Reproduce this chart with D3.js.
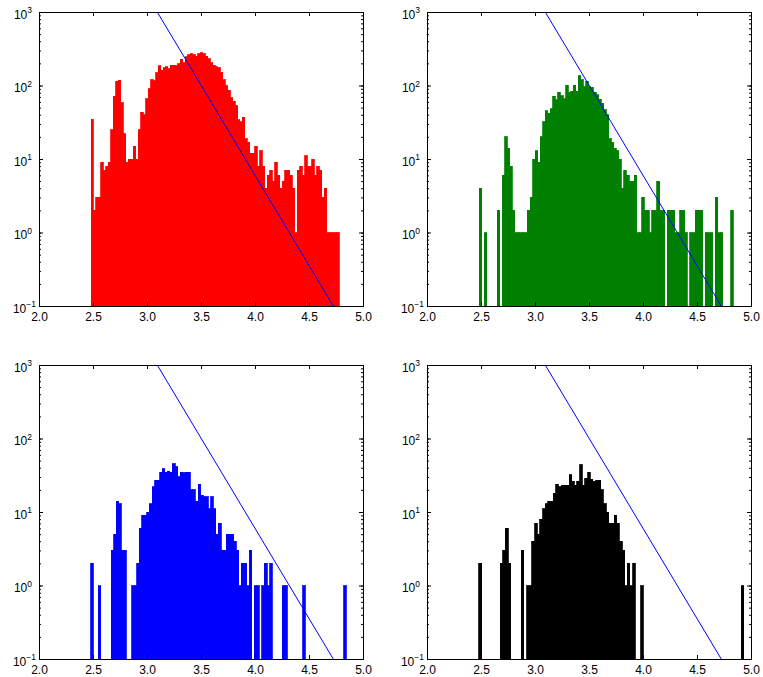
<!DOCTYPE html>
<html>
<head>
<meta charset="utf-8">
<script src="https://cdn.jsdelivr.net/npm/d3@7"></script>
<style>
  body { margin: 0; background: #fff; }
  svg { display: block; font-family: "DejaVu Sans", sans-serif; }
  .tick text { font-size: 12px; fill: #000; }
</style>
</head>
<body>
<svg class="graphic" width="763" height="677"></svg>
<script>
// histogram counts, 100 bins per panel
var redCounts = [
  35, 2, 3, 3, 9, 7, 8, 9, 25, 71,
  114, 118, 58, 22, 9, 10, 10, 15, 10, 25,
  43, 40, 66, 91, 120, 116, 149, 187, 160, 175,
  179, 168, 188, 188, 187, 199, 226, 204, 245, 264,
  272, 264, 250, 270, 278, 270, 250, 232, 204, 190,
  180, 174, 151, 120, 100, 86, 68, 61, 53, 34,
  32, 37, 19, 17, 12, 12, 15, 8, 13, 8,
  4, 6, 7, 5, 9, 6, 4, 5, 7, 7,
  6, 4, 1, 7, 8, 6, 11, 8, 8, 10,
  6, 8, 7, 3, 4, 1, 1, 1, 1, 1
];
var greenCounts = [
  4, 0, 1, 0, 0, 0, 0, 2, 0, 6,
  20, 14, 8, 2, 1, 1, 1, 1, 1, 2,
  3, 10, 13, 9, 20, 32, 45, 42, 48, 71,
  64, 81, 73, 66, 101, 81, 83, 101, 83, 136,
  120, 96, 114, 96, 94, 81, 75, 65, 57, 47,
  40, 19, 17, 14, 13, 10, 4, 7, 6, 5,
  5, 6, 1, 1, 3, 2, 2, 1, 2, 2,
  5, 2, 2, 0, 2, 2, 2, 1, 1, 2,
  2, 1, 0, 1, 1, 2, 2, 2, 0, 1,
  1, 1, 0, 3, 1, 1, 0, 0, 0, 2
];
var blueCounts = [
  2, 0, 0, 1, 0, 0, 0, 0, 3, 5,
  14, 13, 3, 3, 0, 0, 1, 1, 2, 6,
  9, 9, 10, 13, 22, 27, 27, 35, 39, 35,
  36, 35, 45, 41, 30, 35, 34, 35, 35, 20,
  20, 14, 24, 17, 16, 16, 11, 16, 11, 5,
  7, 3, 3, 5, 5, 5, 4, 3, 1, 2,
  2, 1, 3, 0, 1, 1, 0, 1, 2, 1,
  2, 0, 0, 0, 0, 1, 1, 0, 0, 0,
  0, 0, 0, 1, 0, 0, 0, 0, 0, 0,
  0, 0, 0, 0, 0, 0, 0, 0, 0, 1
];
var blackCounts = [
  2, 0, 0, 0, 0, 0, 0, 0, 2, 3,
  6, 2, 0, 0, 0, 0, 3, 0, 1, 1,
  4, 7, 5, 8, 11, 13, 14, 14, 18, 24,
  22, 23, 23, 23, 32, 26, 23, 26, 44, 23,
  29, 35, 28, 26, 27, 27, 20, 13, 10, 7,
  7, 9, 7, 4, 3, 1, 2, 1, 2, 0,
  0, 1, 0, 0, 0, 0, 0, 0, 0, 0,
  0, 0, 0, 0, 0, 0, 0, 0, 0, 0,
  0, 0, 0, 0, 0, 0, 0, 0, 0, 0,
  0, 0, 0, 0, 0, 0, 0, 0, 0, 1
];

// range of the binned values in each panel
var binStarts = [2.477, 2.479, 2.474, 2.476];
var binEnds = [4.776, 4.83, 4.84, 4.93];
var barColours = ["#ff0000", "#008000", "#0000ff", "#000000"];

// the blue reference line, same in every panel
var fitX = [3.09, 4.72];
var fitY = [1000, 0.1];

var xTicks = [2.0, 2.5, 3.0, 3.5, 4.0, 4.5, 5.0];
var yTicks = [0.1, 1, 10, 100, 1000];

var width = 324,
    height = 294,
    panelLefts = [39, 427, 39, 427],
    panelTops = [12, 12, 365, 365];

var allCounts = [redCounts, greenCounts, blueCounts, blackCounts];

var svg = d3.select(".graphic");

function drawPanel(p) {
    var counts = allCounts[p];
    var nBins = counts.length;
    var binWidth = (binEnds[p] - binStarts[p]) / nBins;

    var x = d3.scaleLinear().domain([2, 5]).range([0, width]);
    var y = d3.scaleLog().domain([0.1, 1000]).range([height, 0]);

    var g = svg.append("g")
        .attr("transform", "translate(" + panelLefts[p] + "," + panelTops[p] + ")");

    g.append("clipPath")
        .attr("id", "clip" + p)
        .append("rect")
        .attr("x", 0.5)
        .attr("y", 0.5)
        .attr("width", width)
        .attr("height", height);

    var plot = g.append("g").attr("clip-path", "url(#clip" + p + ")");

    // bars, crisp so neighbouring bins do not leave seams; the edge line
    // in the bar colour makes lone bins as wide as in the original
    plot.selectAll("rect.bar")
        .data(counts.map(function(c, i) { return {i: i, c: c}; }).filter(function(d) { return d.c > 0; }))
        .enter()
        .append("rect")
        .attr("class", "bar")
        .attr("shape-rendering", "crispEdges")
        .attr("x", function(d) { return x(binStarts[p] + d.i * binWidth) + 0.5; })
        .attr("width", function(d) { return x(binStarts[p] + (d.i + 1) * binWidth) - x(binStarts[p] + d.i * binWidth); })
        .attr("y", function(d) { return y(d.c); })
        .attr("height", function(d) { return height + 2 - y(d.c); })
        .attr("fill", barColours[p])
        .attr("stroke", barColours[p])
        .attr("stroke-width", 0.8);

    // reference line
    var line = d3.line()
        .x(function(d) { return x(d[0]) + 0.5; })
        .y(function(d) { return y(d[1]); });

    plot.append("path")
        .datum(d3.zip(fitX, fitY))
        .attr("d", line)
        .attr("fill", "none")
        .attr("stroke", "#0000ff")
        .attr("stroke-width", 1);

    // ticks on all four sides, pointing in
    g.append("g")
        .attr("transform", "translate(0," + height + ")")
        .call(d3.axisBottom(x).tickValues(xTicks).tickSizeInner(-4).tickSizeOuter(0).tickPadding(6)
            .tickFormat(d3.format(".1f")));

    g.append("g")
        .call(d3.axisTop(x).tickValues(xTicks).tickSizeInner(-4).tickSizeOuter(0).tickFormat(""));

    g.append("g")
        .call(d3.axisLeft(y).tickValues(y.ticks()).tickSizeInner(-2).tickSizeOuter(0).tickFormat(""));

    g.append("g")
        .attr("transform", "translate(" + width + ",0)")
        .call(d3.axisRight(y).tickValues(y.ticks()).tickSizeInner(-2).tickSizeOuter(0).tickFormat(""));

    g.append("g")
        .attr("transform", "translate(" + width + ",0)")
        .call(d3.axisRight(y).tickValues(yTicks).tickSizeInner(-4).tickSizeOuter(0).tickFormat(""));

    var yLeft = g.append("g")
        .call(d3.axisLeft(y).tickValues(yTicks).tickSizeInner(-4).tickSizeOuter(0).tickPadding(4));

    // powers of ten as 10 with a raised exponent
    yLeft.selectAll(".tick text")
        .attr("dy", "0.5em")
        .attr("x", function(d) { return d < 1 ? -3 : -7; })
        .each(function(d) {
            var e = Math.round(Math.log10(d));
            var t = d3.select(this).text("");
            t.append("tspan").text("10");
            t.append("tspan")
                .attr("dy", "-0.6em")
                .attr("font-size", "8.5px")
                .text(e < 0 ? "\u2212" + (-e) : e);
        });

    g.selectAll(".domain").remove();
    g.selectAll(".tick line").attr("stroke", "#000");

    g.append("rect")
        .attr("x", 0.5)
        .attr("y", 0.5)
        .attr("width", width)
        .attr("height", height)
        .attr("fill", "none")
        .attr("stroke", "#000")
        .attr("stroke-width", 1);
}

for (var p = 0; p < 4; p++) {
    drawPanel(p);
}
</script>
</body>
</html>
